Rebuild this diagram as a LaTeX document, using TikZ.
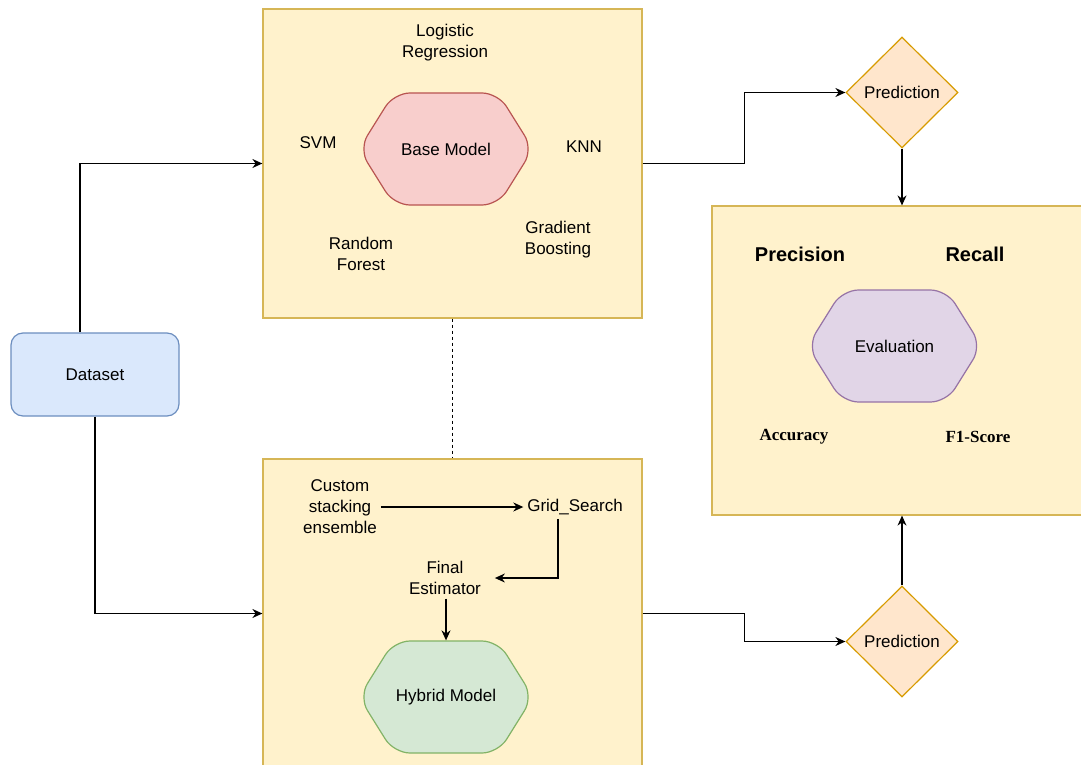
\documentclass[tikz,border=0pt]{standalone}
\usepackage{fontspec}
\setmainfont{Liberation Sans}
\newfontfamily\serifface{Liberation Serif}
\usetikzlibrary{shapes.geometric,arrows.meta}
\definecolor{panelfill}{HTML}{FFF2CC}
\definecolor{panelline}{HTML}{D6B656}
\definecolor{datafill}{HTML}{DAE8FC}
\definecolor{dataline}{HTML}{6C8EBF}
\definecolor{basefill}{HTML}{F8CECC}
\definecolor{baseline}{HTML}{B85450}
\definecolor{hybfill}{HTML}{D5E8D4}
\definecolor{hybline}{HTML}{82B366}
\definecolor{evalfill}{HTML}{E1D5E7}
\definecolor{evalline}{HTML}{9673A6}
\definecolor{predfill}{HTML}{FFE6CC}
\definecolor{predline}{HTML}{D79B00}
\newcommand{\hexshape}[3]{\filldraw[fill=#2, draw=#3, line width=1.2pt, rounded corners=16pt, shift={(#1)}] (0,-56) -- (52,-56) -- (87,0) -- (52,56) -- (-52,56) -- (-87,0) -- (-52,-56) -- cycle;}
\begin{document}
\begin{tikzpicture}[x=1pt, y=-1pt, line width=1.3pt, >={Stealth[length=10pt,width=9pt]}, font=\fontsize{17}{21}\selectfont, panel/.style={draw=panelline, fill=panelfill, line width=1.2pt, minimum width=379pt, minimum height=309pt, inner sep=0pt}, pred/.style={diamond, draw=predline, fill=predfill, line width=1.2pt, minimum width=112pt, minimum height=111pt, inner sep=0pt}, hexnode/.style={minimum width=164pt, minimum height=112pt}, txt/.style={align=center}, metric/.style={font=\fontsize{20}{24}\selectfont\bfseries}, score/.style={font=\fontsize{17}{21}\selectfont\serifface\bfseries}]
	\useasboundingbox (0,0) rectangle (1081,765);
	\node[panel] (basebox) at (452.5,163.5) {};
	\node[panel] (hybbox) at (452.5,613.5) {};
	\node[panel, minimum width=370pt] (evalbox) at (897,360.5) {};
	\node[draw=dataline, fill=datafill, rounded corners=12pt, line width=1.2pt, minimum width=168pt, minimum height=83pt] (data) at (95,374.5) {Dataset};
	\node[pred] (pred1) at (902,92.5) {Prediction};
	\node[pred] (pred2) at (902,641.5) {Prediction};
	\hexshape{446,149}{basefill}{baseline}
	\node[hexnode] (base) at (446,149) {Base Model};
	\hexshape{446,697}{hybfill}{hybline}
	\node[hexnode] (hybrid) at (446,697) {Hybrid Model};
	\hexshape{894.5,346}{evalfill}{evalline}
	\node[hexnode] (eval) at (894.5,346) {Evaluation};
	\node[txt] (logreg) at (445,43) {Logistic\\Regression};
	\node (svm) at (318,143) {SVM};
	\node (knn) at (584,147) {KNN};
	\node[txt] (rf) at (361,254) {Random\\Forest};
	\node[txt] (gb) at (558,240) {Gradient\\Boosting};
	\node[txt] (custom) at (340,507) {Custom\\stacking\\ensemble};
	\node (grid) at (575,507) {Grid\_Search};
	\node[txt] (final) at (445,578) {Final\\Estimator};
	\node[metric] (prec) at (800,254) {Precision};
	\node[metric] (rec) at (975,254) {Recall};
	\node[score] (acc) at (794,437) {Accuracy};
	\node[score] (f1) at (978,437) {F1-Score};
	\draw[->] ([xshift=-15pt]data.north) |- (basebox.west);
	\draw[->] (data.south) |- (hybbox.west);
	\draw[->] (basebox.east) -- ++(102,0) |- (pred1.west);
	\draw[->] (hybbox.east) -- ++(102,0) |- (pred2.west);
	\draw[->] (pred1.south) -- (pred1.south |- evalbox.north);
	\draw[->] (pred2.north) -- (pred2.north |- evalbox.south);
	\draw[dash pattern=on 3pt off 3pt, line width=1pt] (basebox.south) -- (hybbox.north);
	\draw[->] (custom.east) -- (grid.west);
	\draw[->] ([xshift=-17pt]grid.south) |- ([xshift=10pt]final.east);
	\draw[->] (final.south -| hybrid.north) -- (hybrid.north);
\end{tikzpicture}
\end{document}
